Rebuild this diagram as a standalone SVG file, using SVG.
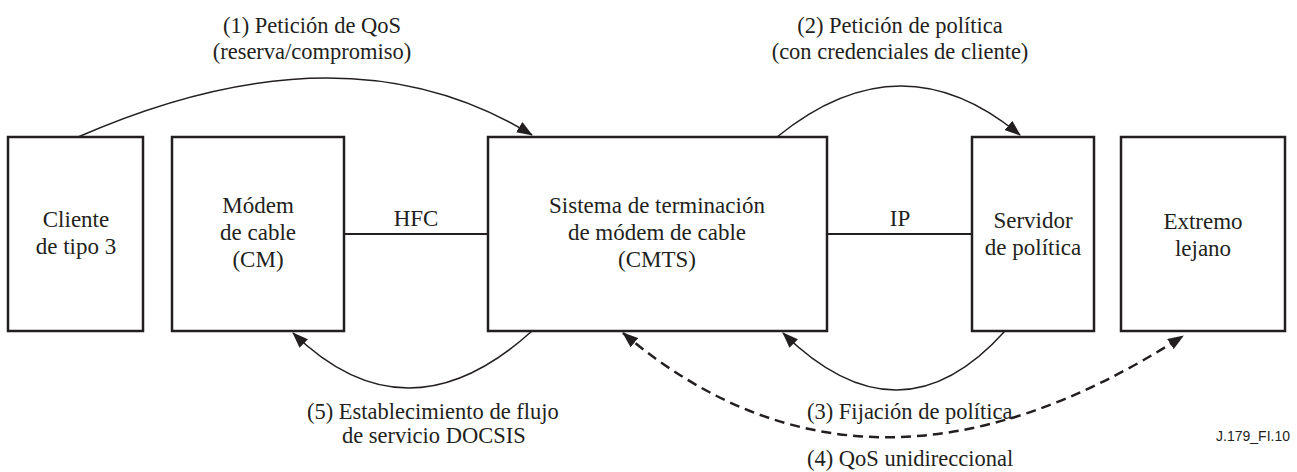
<svg xmlns="http://www.w3.org/2000/svg" width="1297" height="472" viewBox="0 0 1297 472">
<style>
.box{fill:#fff;stroke:#231f20;stroke-width:2.5}
text{font-family:'Liberation Serif','Times New Roman','DejaVu Serif',serif;font-size:23px;fill:#231f20}
.t{text-anchor:middle}
.lbl{font-size:22.5px}
.line{fill:none;stroke:#231f20;stroke-width:2}
.arc{fill:none;stroke:#231f20;stroke-width:1.5}
.dash{fill:none;stroke:#231f20;stroke-width:2.5;stroke-dasharray:10 6}
text.ref{font-family:'Liberation Sans',Arial,sans-serif;font-size:14px;text-anchor:end}
</style>
<defs>
<marker id="ah" viewBox="0 0 16 12" refX="15" refY="6" markerWidth="16" markerHeight="12" markerUnits="userSpaceOnUse" orient="auto-start-reverse">
<path d="M0,0 L16,6 L0,12 Z" fill="#231f20"/>
</marker>
</defs>
<g id="cliente">
<rect class="box" x="8" y="137" width="135" height="194"/>
<text class="t" x="76" y="227">Cliente</text>
<text class="t" x="76" y="254">de tipo 3</text>
</g>
<g id="modem">
<rect class="box" x="172" y="137" width="172" height="194"/>
<text class="t" x="258" y="213">Módem</text>
<text class="t" x="258" y="240">de cable</text>
<text class="t" x="258" y="267">(CM)</text>
</g>
<g id="cmts">
<rect class="box" x="488" y="137" width="339" height="194"/>
<text class="t" x="657" y="213">Sistema de terminación</text>
<text class="t" x="657" y="240">de módem de cable</text>
<text class="t" x="657" y="267">(CMTS)</text>
</g>
<g id="servidor">
<rect class="box" x="972" y="137" width="122" height="194"/>
<text class="t" x="1033" y="228">Servidor</text>
<text class="t" x="1033" y="255">de política</text>
</g>
<g id="extremo">
<rect class="box" x="1121" y="137" width="164" height="194"/>
<text class="t" x="1203" y="229">Extremo</text>
<text class="t" x="1203" y="256">lejano</text>
</g>
<g id="connectors">
<line class="line" x1="344" y1="234" x2="488" y2="234"/>
<line class="line" x1="827" y1="234" x2="972" y2="234"/>
<path class="arc" d="M78,137 Q345,20 532,135" marker-end="url(#ah)"/>
<path class="arc" d="M777,137 Q901,36 1020,135" marker-end="url(#ah)"/>
<path class="arc" d="M532,331 Q407,444 293,333" marker-end="url(#ah)"/>
<path class="arc" d="M1005,331 Q900,448 783,333" marker-end="url(#ah)"/>
<path class="dash" d="M623,333 Q867,540 1183,336" marker-start="url(#ah)" marker-end="url(#ah)"/>
</g>
<g id="labels">
<text class="t lbl" x="312" y="33">(1) Petición de QoS</text>
<text class="t lbl" x="312" y="59">(reserva/compromiso)</text>
<text class="t lbl" x="900" y="33">(2) Petición de política</text>
<text class="t lbl" x="900" y="59">(con credenciales de cliente)</text>
<text class="t" x="416" y="226">HFC</text>
<text class="t" x="900" y="226">IP</text>
<text class="lbl" x="307" y="419">(5) Establecimiento de flujo</text>
<text class="lbl" x="342" y="443">de servicio DOCSIS</text>
<text class="lbl" x="807" y="419">(3) Fijación de política</text>
<text class="lbl" x="807" y="466">(4) QoS unidireccional</text>
<text class="ref" x="1290" y="441">J.179_FI.10</text>
</g>
</svg>
